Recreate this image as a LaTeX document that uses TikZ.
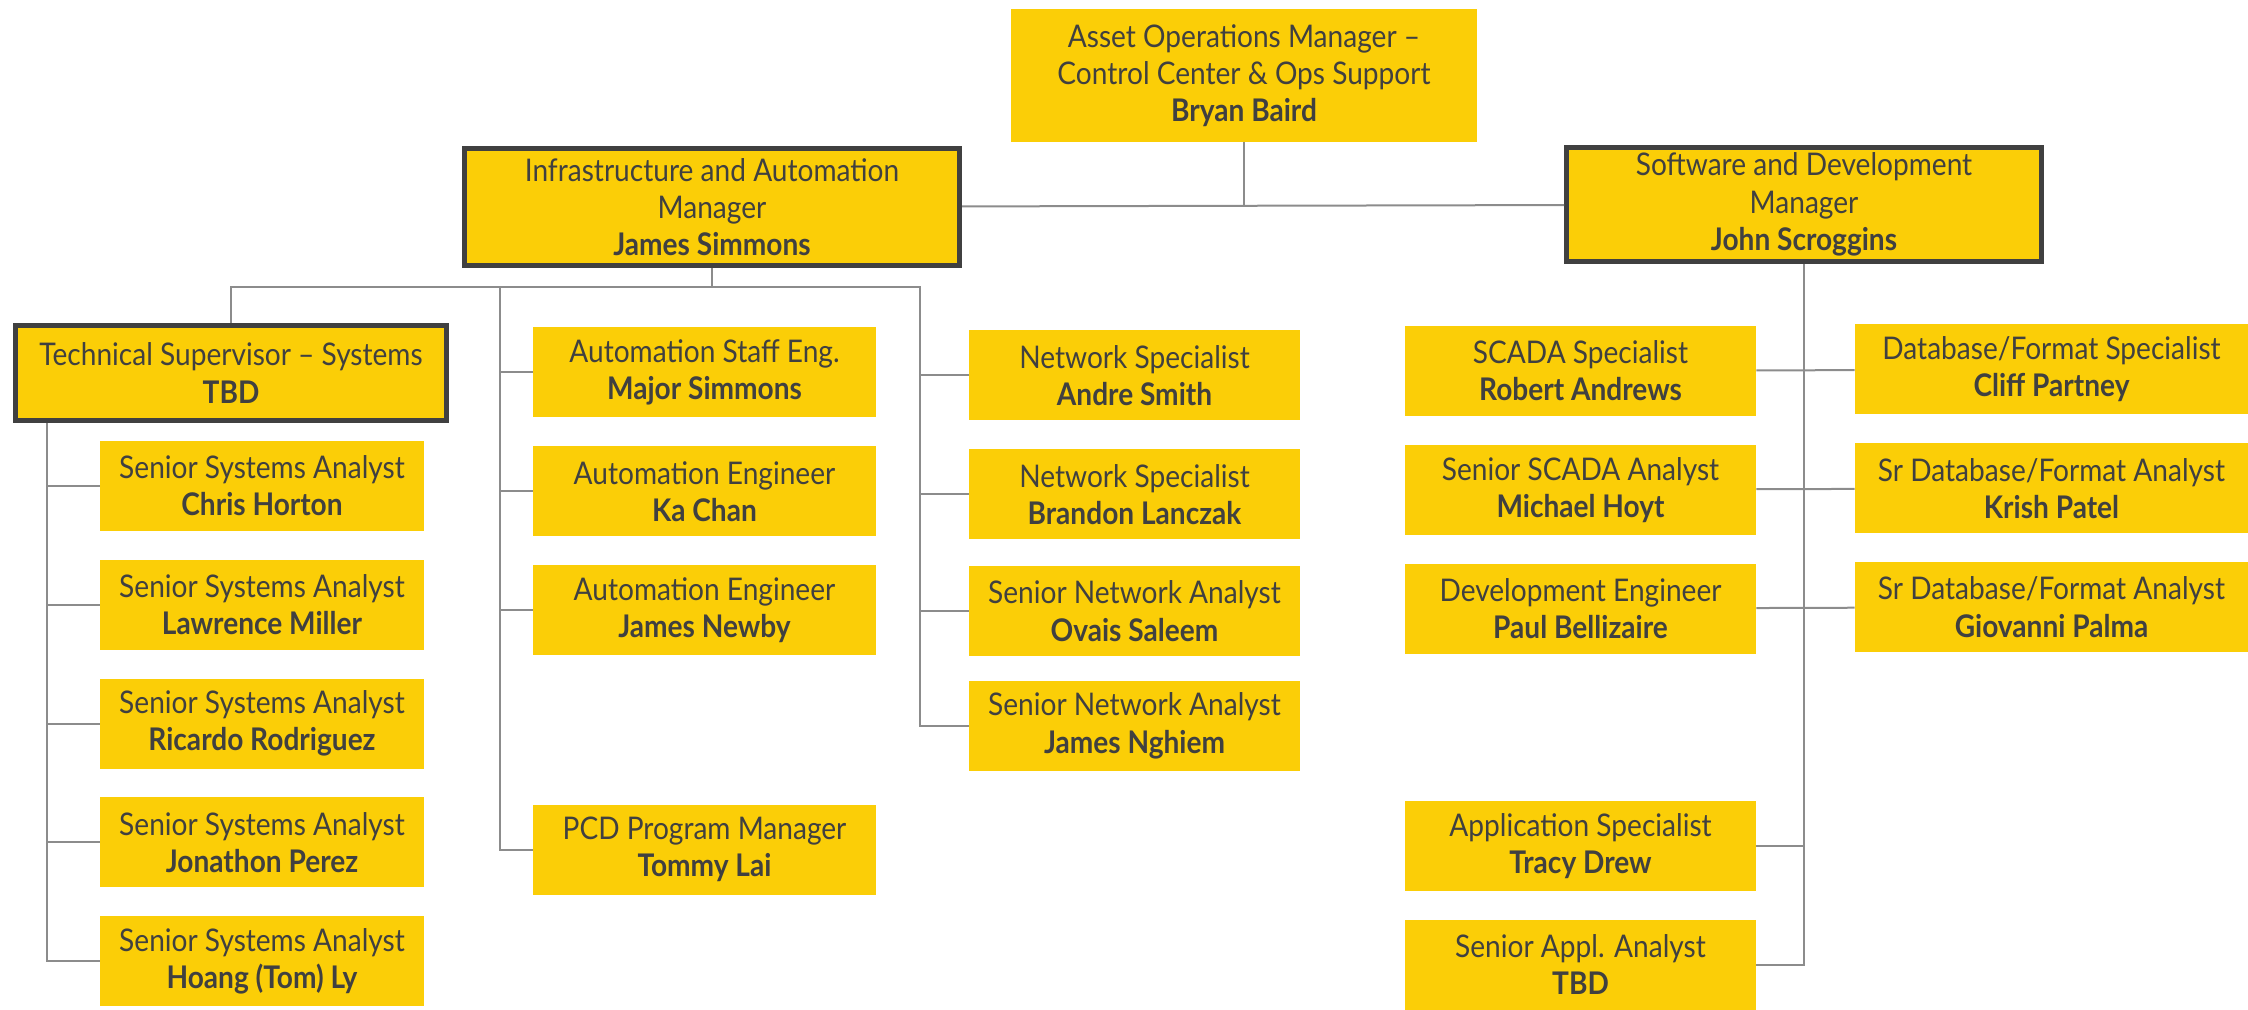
\documentclass[tikz,border=0pt]{standalone}
\usepackage{fontspec}
\setmainfont{Lato}[FakeStretch=0.9]
\usepackage{xcolor}
\usepackage{tikz}
\usetikzlibrary{positioning}

\definecolor{orgyellow}{HTML}{FBCE07}
\definecolor{orgink}{HTML}{404040}
\definecolor{orgline}{HTML}{8C8C8C}

\begin{document}
\begin{tikzpicture}
 [x=0.5pt, y=-0.5pt,
  post/.style={draw=orgline, line width=1pt},
  staff/.style={rectangle, fill=orgyellow, text=orgink, align=center,
                inner sep=0pt, minimum height=45pt,
                font=\fontsize{15.6}{18.6}\selectfont},
  lead/.style={staff, draw=orgink, line width=2.5pt},
  node distance=14pt]
 \useasboundingbox (0,0) rectangle (2248,1010);

 % top of the chart
 \node[staff, minimum width=233pt, minimum height=66.5pt] (mgr) at (1244,75.5)
   {Asset Operations Manager --\\Control Center \& Ops Support\\\textbf{Bryan Baird}};
 \node[lead, minimum width=247.5pt, minimum height=58.5pt] (infra) at (712,207)
   {Infrastructure and Automation\\Manager\\\textbf{James Simmons}};
 \node[lead, minimum width=237.5pt, minimum height=57pt] (soft) at (1804,204.5)
   {Software and Development\\Manager\\\textbf{John Scroggins}};
 \node[lead, minimum width=215.5pt, minimum height=47.5pt] (tsup) at (231,373)
   {Technical Supervisor -- Systems\\\textbf{TBD}};

 % systems analysts
 \node[staff, minimum width=162pt] (sys1) at (262,486)
   {Senior Systems Analyst\\\textbf{Chris Horton}};
 \node[staff, minimum width=162pt] (sys2) [below=of sys1]
   {Senior Systems Analyst\\\textbf{Lawrence Miller}};
 \node[staff, minimum width=162pt] (sys3) [below=of sys2]
   {Senior Systems Analyst\\\textbf{Ricardo Rodriguez}};
 \node[staff, minimum width=162pt] (sys4) [below=of sys3]
   {Senior Systems Analyst\\\textbf{Jonathon Perez}};
 \node[staff, minimum width=162pt] (sys5) [below=of sys4]
   {Senior Systems Analyst\\\textbf{Hoang (Tom) Ly}};

 % automation
 \node[staff, minimum width=171.5pt] (auto1) at (704.5,372.5)
   {Automation Staff Eng.\\\textbf{Major Simmons}};
 \node[staff, minimum width=171.5pt] (auto2) [below=of auto1]
   {Automation Engineer\\\textbf{Ka Chan}};
 \node[staff, minimum width=171.5pt] (auto3) [below=of auto2]
   {Automation Engineer\\\textbf{James Newby}};
 \node[staff, minimum width=171.5pt] (pcd) at (704.5,849.5)
   {PCD Program Manager\\\textbf{Tommy Lai}};

 % network
 \node[staff, minimum width=165.5pt] (net1) at (1134.5,375.5)
   {Network Specialist\\\textbf{Andre Smith}};
 \node[staff, minimum width=165.5pt] (net2) [below=of net1]
   {Network Specialist\\\textbf{Brandon Lanczak}};
 \node[staff, minimum width=165.5pt] (net3) [below=13pt of net2]
   {Senior Network Analyst\\\textbf{Ovais Saleem}};
 \node[staff, minimum width=165.5pt] (net4) [below=12pt of net3]
   {Senior Network Analyst\\\textbf{James Nghiem}};

 % scada and applications
 \node[staff, minimum width=175.5pt] (scada1) at (1580.5,371)
   {SCADA Specialist\\\textbf{Robert Andrews}};
 \node[staff, minimum width=175.5pt] (scada2) [below=of scada1]
   {Senior SCADA Analyst\\\textbf{Michael Hoyt}};
 \node[staff, minimum width=175.5pt] (dev) [below=of scada2]
   {Development Engineer\\\textbf{Paul Bellizaire}};
 \node[staff, minimum width=175.5pt] (app) at (1580.5,846)
   {Application Specialist\\\textbf{Tracy Drew}};
 \node[staff, minimum width=175.5pt] (appl) [below=of app]
   {Senior Appl. Analyst\\\textbf{TBD}};

 % database
 \node[staff, minimum width=196.5pt] (db1) at (2051.5,369.5)
   {Database/Format Specialist\\\textbf{Cliff Partney}};
 \node[staff, minimum width=196.5pt] (db2) [below=of db1]
   {Sr Database/Format Analyst\\\textbf{Krish Patel}};
 \node[staff, minimum width=196.5pt] (db3) [below=of db2]
   {Sr Database/Format Analyst\\\textbf{Giovanni Palma}};

 % connectors
 \coordinate (busy) at (0,287);
 \coordinate (sysbus) at (47,0);
 \coordinate (autobus) at (500,0);
 \coordinate (netbus) at (920,0);

 \path (infra) edge[post] (soft);
 \draw[post] (mgr.south) -- (mgr.south |- infra.east);
 \draw[post] (infra.south) -- (infra.south |- busy);
 \draw[post] (tsup.north) -- (tsup.north |- busy) -- (netbus |- busy)
             -- (netbus |- net4.west) -- (net4.west);
 \draw[post] (autobus |- busy) -- (autobus |- pcd.west) -- (pcd.west);
 \draw[post] (sysbus |- tsup.south) -- (sysbus |- sys5.west) -- (sys5.west);
 \draw[post] (soft.south) -- (soft.south |- appl.east) -- (appl.east);

 \path (sysbus |- sys1.west) edge[post] (sys1.west)
       (sysbus |- sys2.west) edge[post] (sys2.west)
       (sysbus |- sys3.west) edge[post] (sys3.west)
       (sysbus |- sys4.west) edge[post] (sys4.west)
       (autobus |- auto1.west) edge[post] (auto1.west)
       (autobus |- auto2.west) edge[post] (auto2.west)
       (autobus |- auto3.west) edge[post] (auto3.west)
       (netbus |- net1.west) edge[post] (net1.west)
       (netbus |- net2.west) edge[post] (net2.west)
       (netbus |- net3.west) edge[post] (net3.west)
       (app.east) edge[post] (app.east -| soft.south);
 \path (scada1) edge[post] (db1)
       (scada2) edge[post] (db2)
       (dev) edge[post] (db3);
\end{tikzpicture}
\end{document}
